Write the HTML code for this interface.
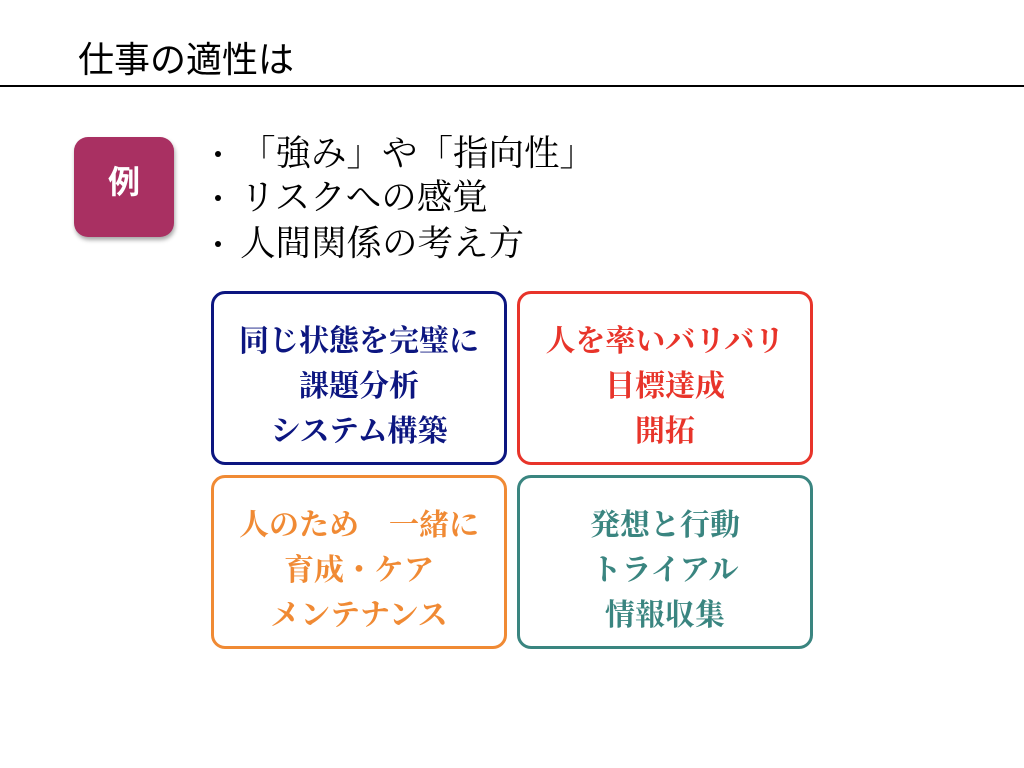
<!DOCTYPE html>
<html><head><meta charset="utf-8"><style>
body{margin:0;width:1024px;height:768px;background:#fff;position:relative;overflow:hidden;}
.t{position:absolute;left:78px;top:38px;font:36px "Liberation Sans","Noto Sans CJK JP",sans-serif;color:#000;line-height:44px;}
.hr{position:absolute;left:0;top:85px;width:1024px;height:2px;background:#000;}
.badge{position:absolute;left:74px;top:137px;width:100px;height:100px;border-radius:14px;background:#a93062;box-shadow:1px 3px 4px rgba(0,0,0,.35);color:#fff;font:bold 32px "Noto Sans CJK JP",sans-serif;text-align:center;line-height:86px;}
.b{position:absolute;left:240px;font:35.5px "Liberation Serif","Noto Serif CJK SC",serif;color:#000;line-height:46px;white-space:nowrap;}
.d{position:absolute;left:212px;width:10px;height:10px;}
.d::after{content:"";position:absolute;left:3px;top:3px;width:6px;height:6px;border-radius:50%;background:#000;}
.box{position:absolute;width:290px;height:168px;border:3px solid;border-radius:14px;box-sizing:content-box;text-align:center;font:bold 30px "Liberation Serif","Noto Serif CJK SC",serif;line-height:45px;}
.box div{margin-top:25px}
</style></head><body>
<div class="t">仕事の適性は</div>
<div class="hr"></div>
<div class="badge">例</div>
<div class="d" style="top:148px"></div>
<div class="d" style="top:192px"></div>
<div class="d" style="top:238px"></div>
<div class="b" style="top:130px">「強み」や「指向性」</div>
<div class="b" style="top:174px">リスクへの感覚</div>
<div class="b" style="top:220px">人間関係の考え方</div>
<div class="box" style="left:211px;top:291px;border-color:#0c1680;color:#0c1680"><div>同じ状態を完璧に<br>課題分析<br>システム構築</div></div>
<div class="box" style="left:517px;top:291px;border-color:#e8342a;color:#e8342a"><div>人を率いバリバリ<br>目標達成<br>開拓</div></div>
<div class="box" style="left:211px;top:475px;border-color:#f08a34;color:#f08a34"><div>人のため　一緒に<br>育成・ケア<br>メンテナンス</div></div>
<div class="box" style="left:517px;top:475px;border-color:#3a8580;color:#3a8580"><div>発想と行動<br>トライアル<br>情報収集</div></div>
</body></html>
